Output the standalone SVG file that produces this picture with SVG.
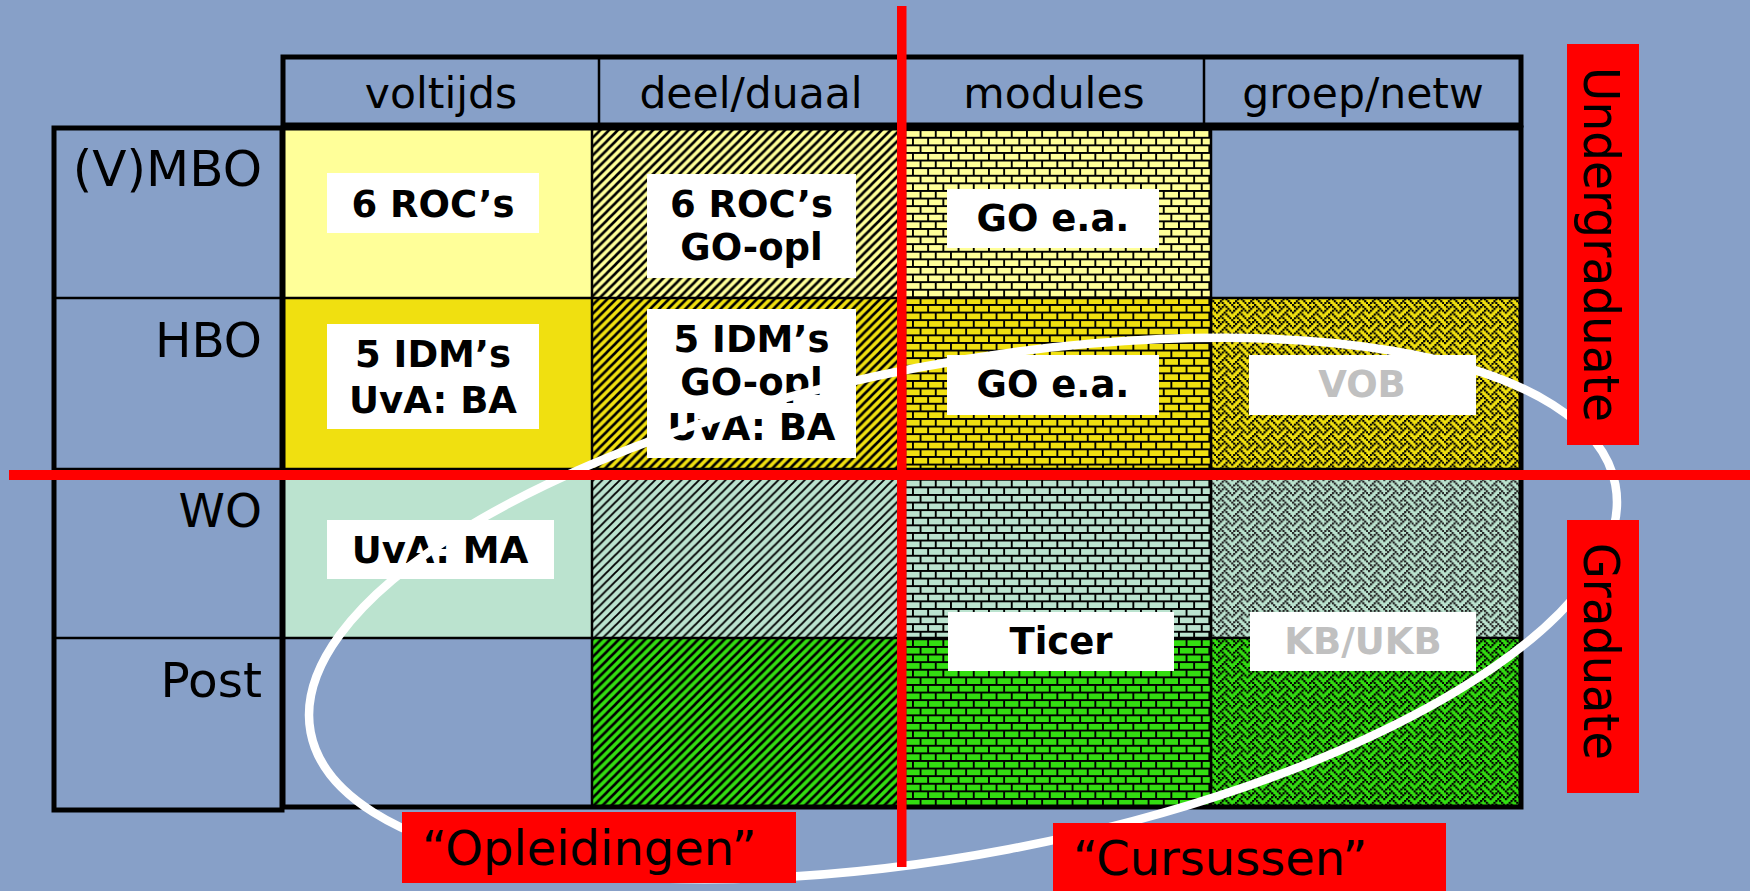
<svg xmlns="http://www.w3.org/2000/svg" xmlns:xlink="http://www.w3.org/1999/xlink" width="1750" height="891" viewBox="0 0 1750 891">
<defs>
<style>
.hdr{font-family:"DejaVu Sans",Verdana,sans-serif;font-size:42.5px;text-anchor:middle;fill:#000}
.rowl{font-family:"DejaVu Sans",Verdana,sans-serif;font-size:48.5px;text-anchor:end;fill:#000}
.box{fill:#fff}
.lbl{font-family:"DejaVu Sans",Verdana,sans-serif;font-weight:bold;font-size:37px;text-anchor:middle;fill:#000}
.gray{fill:#c0c0c0}
.redbox{fill:#ff0000}
.big{font-family:"DejaVu Sans",Verdana,sans-serif;font-size:48px;fill:#000}
.vert{font-family:"DejaVu Sans",Verdana,sans-serif;font-size:50px;fill:#000;text-anchor:middle}
.thin{stroke:#000;stroke-width:2.5;fill:none}
.thick{stroke:#000;stroke-width:5;fill:none}
.st{stroke:#000;stroke-width:2.6}
.stl{stroke:#000;stroke-width:1.9}
.br{stroke:#000;stroke-width:1.9;fill:none}
</style>
<path id="stp" d="M-2.2,2.2 L2.2,-2.2 M0,8.8 L8.8,0 M6.6,11 L11,6.6"/>
<path id="brp" d="M0,0.95H15.2M0,8.55H15.2M0.95,0V7.6M8.55,7.6V15.2"/>
<path id="wvp" d="M0,0h2.2v2.2h-2.2zM7.6,0h2.2v2.2h-2.2zM1.9,1.9h2.2v2.2h-2.2zM5.7,1.9h2.2v2.2h-2.2zM9.5,1.9h2.2v2.2h-2.2zM3.8,3.8h2.2v2.2h-2.2zM11.4,3.8h2.2v2.2h-2.2zM1.9,5.7h2.2v2.2h-2.2zM9.5,5.7h2.2v2.2h-2.2zM13.3,5.7h2.2v2.2h-2.2zM0,7.6h2.2v2.2h-2.2zM7.6,7.6h2.2v2.2h-2.2zM5.7,9.5h2.2v2.2h-2.2zM9.5,9.5h2.2v2.2h-2.2zM3.8,11.4h2.2v2.2h-2.2zM11.4,11.4h2.2v2.2h-2.2zM1.9,13.3h2.2v2.2h-2.2zM5.7,13.3h2.2v2.2h-2.2zM13.3,13.3h2.2v2.2h-2.2z"/>
<pattern id="st1" width="8.8" height="8.8" patternUnits="userSpaceOnUse"><rect width="8.8" height="8.8" fill="#FFFF99"/><use xlink:href="#stp" class="st"/></pattern>
<pattern id="st2" width="8.8" height="8.8" patternUnits="userSpaceOnUse"><rect width="8.8" height="8.8" fill="#F0E010"/><use xlink:href="#stp" class="st"/></pattern>
<pattern id="st3" width="8.8" height="8.8" patternUnits="userSpaceOnUse"><rect width="8.8" height="8.8" fill="#BBE3CF"/><use xlink:href="#stp" class="stl"/></pattern>
<pattern id="st4" width="8.8" height="8.8" patternUnits="userSpaceOnUse"><rect width="8.8" height="8.8" fill="#33DD11"/><use xlink:href="#stp" class="st"/></pattern>
<pattern id="br1" width="15.2" height="15.2" patternUnits="userSpaceOnUse"><rect width="15.2" height="15.2" fill="#FFFF99"/><use xlink:href="#brp" class="br"/></pattern>
<pattern id="br2" width="15.2" height="15.2" patternUnits="userSpaceOnUse"><rect width="15.2" height="15.2" fill="#F0E010"/><use xlink:href="#brp" class="br"/></pattern>
<pattern id="br3" width="15.2" height="15.2" patternUnits="userSpaceOnUse"><rect width="15.2" height="15.2" fill="#BBE3CF"/><use xlink:href="#brp" class="br"/></pattern>
<pattern id="br4" width="15.2" height="15.2" patternUnits="userSpaceOnUse"><rect width="15.2" height="15.2" fill="#33DD11"/><use xlink:href="#brp" class="br"/></pattern>
<pattern id="wv2" width="15.2" height="15.2" patternUnits="userSpaceOnUse"><rect width="15.2" height="15.2" fill="#F0E010"/><use xlink:href="#wvp" fill="#000"/></pattern>
<pattern id="wv3" width="15.2" height="15.2" patternUnits="userSpaceOnUse"><rect width="15.2" height="15.2" fill="#BBE3CF"/><use xlink:href="#wvp" fill="#222"/></pattern>
<pattern id="wv4" width="15.2" height="15.2" patternUnits="userSpaceOnUse"><rect width="15.2" height="15.2" fill="#33DD11"/><use xlink:href="#wvp" fill="#000"/></pattern>
</defs>
<rect width="1750" height="891" fill="#87A0C8"/>

<g id="header">
<rect x="283" y="57" width="1238" height="68" class="thick"/>
<path d="M599,57V125M903,57V125M1204,57V125" class="thin"/>
<text x="441" y="108" class="hdr">voltijds</text>
<text x="751" y="108" class="hdr">deel/duaal</text>
<text x="1054" y="108" class="hdr">modules</text>
<text x="1363" y="108" class="hdr">groep/netw</text>
</g>

<g id="row-labels">
<rect x="54" y="128" width="228" height="682" class="thick"/>
<path d="M54,298H282M54,469H282M54,638H282" class="thin"/>
<text x="262" y="186" class="rowl" style="font-size:50px">(V)MBO</text>
<text x="262" y="357" class="rowl">HBO</text>
<text x="262" y="527" class="rowl" style="font-size:47px">WO</text>
<text x="262" y="697" class="rowl">Post</text>
</g>

<g id="cells">
<rect x="283" y="128" width="309" height="170" fill="#FFFF99"/>
<rect x="592" y="128" width="311" height="170" fill="url(#st1)"/>
<rect x="903" y="128" width="308" height="170" fill="url(#br1)"/>
<rect x="283" y="298" width="309" height="171" fill="#F0E010"/>
<rect x="592" y="298" width="311" height="171" fill="url(#st2)"/>
<rect x="903" y="298" width="308" height="171" fill="url(#br2)"/>
<rect x="1211" y="298" width="310" height="171" fill="url(#wv2)"/>
<rect x="283" y="469" width="309" height="169" fill="#BBE3CF"/>
<rect x="592" y="469" width="311" height="169" fill="url(#st3)"/>
<rect x="903" y="469" width="308" height="169" fill="url(#br3)"/>
<rect x="1211" y="469" width="310" height="169" fill="url(#wv3)"/>
<rect x="592" y="638" width="311" height="169" fill="url(#st4)"/>
<rect x="903" y="638" width="308" height="169" fill="url(#br4)"/>
<rect x="1211" y="638" width="310" height="169" fill="url(#wv4)"/>
<path d="M592,128V807M903,128V807M1211,128V807M283,298H1521M283,469H1521M283,638H1521" class="thin"/>
<rect x="283" y="128" width="1238" height="679" class="thick"/>
</g>

<g id="label-roc1">
<rect x="327" y="173" width="212" height="60" class="box"/>
<text x="433" y="217" class="lbl">6 ROC’s</text>
</g>
<g id="label-idm1">
<rect x="327" y="324" width="212" height="105" class="box"/>
<text x="433" y="367" class="lbl">5 IDM’s</text>
<text x="433" y="413" class="lbl">UvA: BA</text>
</g>
<g id="label-roc2">
<rect x="647" y="174" width="209" height="104" class="box"/>
<text x="751.5" y="217" class="lbl">6 ROC’s</text>
<text x="751.5" y="260" class="lbl">GO-opl</text>
</g>
<g id="label-idm2">
<rect x="647" y="309" width="209" height="149" class="box"/>
<text x="751.5" y="352" class="lbl">5 IDM’s</text>
<text x="751.5" y="395" class="lbl">GO-opl</text>
<text x="751.5" y="440" class="lbl">UvA: BA</text>
</g>
<g id="label-go1">
<rect x="947" y="189" width="212" height="59" class="box"/>
<text x="1053" y="231" class="lbl">GO e.a.</text>
</g>
<g id="label-go2">
<rect x="947" y="355" width="212" height="60" class="box"/>
<text x="1053" y="397" class="lbl">GO e.a.</text>
</g>
<g id="label-vob">
<rect x="1249" y="355" width="227" height="60" class="box"/>
<text x="1362" y="397" class="lbl gray">VOB</text>
</g>
<g id="label-uva-ma">
<rect x="327" y="520" width="227" height="59" class="box"/>
<text x="440" y="563" class="lbl">UvA: MA</text>
</g>
<g id="label-ticer">
<rect x="948" y="612" width="226" height="59" class="box"/>
<text x="1061" y="654" class="lbl">Ticer</text>
</g>
<g id="label-kb">
<rect x="1250" y="612" width="226" height="59" class="box"/>
<text x="1363" y="654" class="lbl gray">KB/UKB</text>
</g>

<g id="connectors">
<ellipse cx="963" cy="608.5" rx="664" ry="245" transform="rotate(-10.75 963 608.5)" fill="none" stroke="#fff" stroke-width="8.5"/>
<rect x="9" y="470" width="1741" height="10" fill="#ff0000"/>
<rect x="897" y="6" width="9.5" height="861" fill="#ff0000"/>
</g>

<g id="label-undergraduate">
<rect x="1567" y="44" width="72" height="401" class="redbox"/>
<text class="vert" transform="translate(1584,244.5) rotate(90)" textLength="355" lengthAdjust="spacingAndGlyphs">Undergraduate</text>
</g>
<g id="label-graduate">
<rect x="1567" y="520" width="72" height="273" class="redbox"/>
<text class="vert" transform="translate(1584,651.5) rotate(90)" textLength="217" lengthAdjust="spacingAndGlyphs">Graduate</text>
</g>
<g id="label-opleidingen">
<rect x="402" y="812" width="394" height="71" class="redbox"/>
<text x="422" y="865" class="big">“Opleidingen”</text>
</g>
<g id="label-cursussen">
<rect x="1053" y="823" width="393" height="68" class="redbox"/>
<text x="1073" y="875" class="big">“Cursussen”</text>
</g>
</svg>
